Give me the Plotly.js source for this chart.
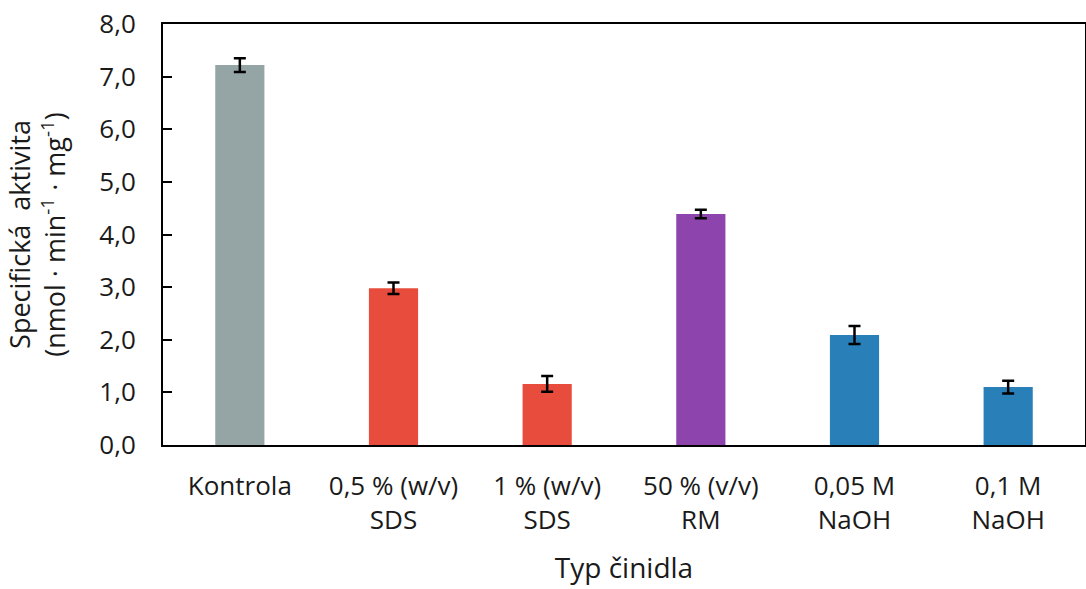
<!DOCTYPE html>
<html>
<head>
<meta charset="utf-8">
<script src="https://cdn.plot.ly/plotly-3.0.1.min.js"></script>
<style>html,body{margin:0;padding:0;background:#fff;}#chart{width:1086px;height:589px;}</style>
</head>
<body>
<div id="chart"></div>
<script>
const categories = ["Kontrola", "0,5 % (w/v)<br>SDS", "1 % (w/v)<br>SDS", "50 % (v/v)<br>RM", "0,05 M<br>NaOH", "0,1 M<br>NaOH"];
const activity = [7.22, 2.98, 1.16, 4.39, 2.09, 1.10];
const errors = [0.13, 0.11, 0.15, 0.08, 0.17, 0.12];
const barColors = ["#95a5a6", "#e74c3c", "#e74c3c", "#8e44ad", "#2980b9", "#2980b9"];
const yTicks = [0, 1, 2, 3, 4, 5, 6, 7, 8];

const font = "Open Sans, sans-serif";
const txt = "#1a1a1a";
const trace = {
  type: "bar",
  x: categories,
  y: activity,
  marker: {color: barColors, line: {width: 0}},
  width: 0.32,
  error_y: {type: "data", array: errors, visible: true, color: "#000", thickness: 2.5, width: 6},
  hoverinfo: "skip"
};

const layout = {
  width: 1086, height: 589,
  margin: {l: 163, r: 1, t: 24, b: 144},
  paper_bgcolor: "#fff", plot_bgcolor: "#fff",
  separators: ", ",
  showlegend: false,
  font: {family: font, size: 26, color: txt},
  xaxis: {
    type: "category",
    range: [-0.5, 5.5],
    showline: true, mirror: true, linecolor: "#000", linewidth: 2,
    ticks: "", showgrid: false, zeroline: false,
    tickfont: {family: font, size: 26, color: txt},
    ticklabelstandoff: 17,
    title: {text: "Typ činidla", font: {family: font, size: 28, color: txt}, standoff: 22}
  },
  yaxis: {
    range: [0, 8],
    tickvals: yTicks,
    tickformat: ".1f",
    showline: true, mirror: true, linecolor: "#000", linewidth: 2,
    ticks: "inside", ticklen: 9, tickwidth: 2, tickcolor: "#000",
    showgrid: false, zeroline: false,
    tickfont: {family: font, size: 26, color: txt},
    ticklabelstandoff: 20,
    title: {text: "Specifická  aktivita<br>(nmol · min<sup>-1</sup> · mg<sup>-1</sup>)", font: {family: font, size: 27, color: txt}, standoff: 26}
  }
};

Plotly.newPlot("chart", [trace], layout, {displayModeBar: false, staticPlot: true});
</script>
</body>
</html>
